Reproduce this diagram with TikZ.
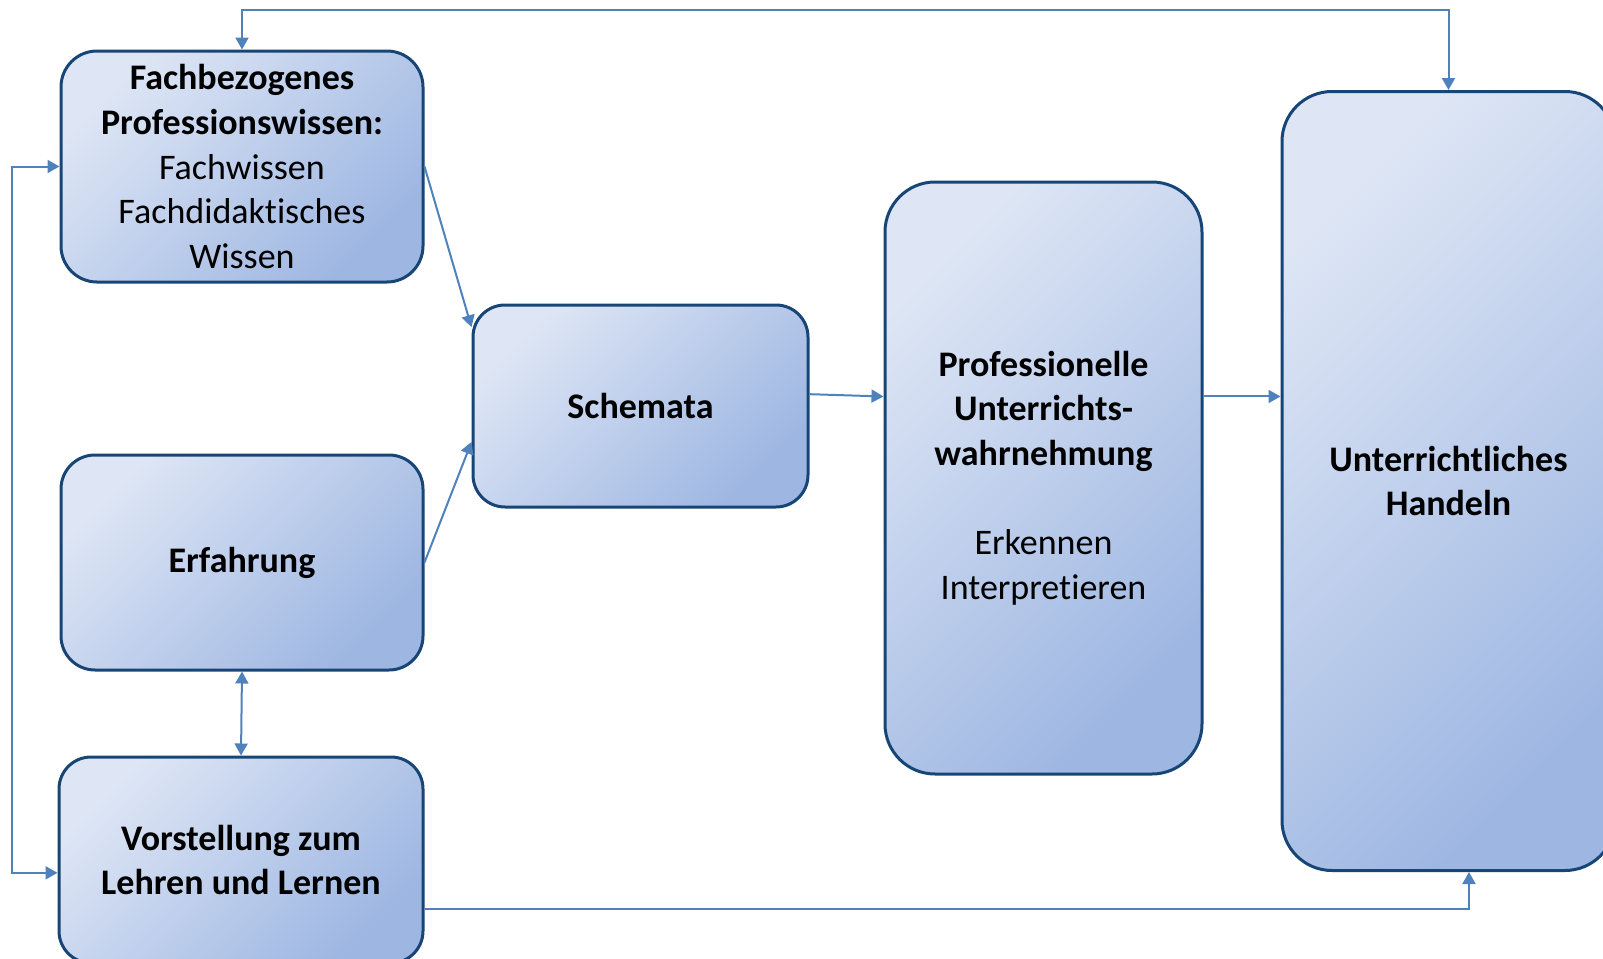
\documentclass[tikz,border=0pt]{standalone}
\usepackage{fontspec}
\setmainfont{Carlito}[Ligatures={NoCommon,NoContextual}]
\usetikzlibrary{arrows.meta}
\definecolor{boxline}{RGB}{23,70,118}
\definecolor{boxlight}{RGB}{222,230,245}
\definecolor{boxdark}{RGB}{157,182,226}
\definecolor{arrowblue}{RGB}{79,129,189}

\begin{document}
\begin{tikzpicture}[x=0.5pt, y=-0.5pt,
    box/.style={draw=boxline, line width=1.5pt, top color=boxlight, bottom color=boxdark,
      shading angle=45, align=center, inner sep=0pt, font=\fontsize{18}{22.3}\selectfont},
    link/.style={draw=arrowblue, line width=1pt},
    >={Triangle[length=6pt,width=6.5pt]}]
    \clip (0,0) rectangle (1603,959);
    % boxes
    \node[box, minimum width=181pt, minimum height=115.5pt, rounded corners=18pt] (fach) at (242,166.5)
        {\textbf{Fachbezogenes}\\\textbf{Professionswissen:}\\Fachwissen\\Fachdidaktisches\\Wissen};
    \node[box, minimum width=181pt, minimum height=107.5pt, rounded corners=17pt] (erf) at (242,562.5)
        {\textbf{Erfahrung}};
    \node[box, minimum width=182pt, minimum height=103pt, rounded corners=16pt] (vor) at (241,860)
        {\textbf{Vorstellung zum}\\\textbf{Lehren und Lernen}};
    \node[box, minimum width=167.5pt, minimum height=101pt, rounded corners=16pt] (sch) at (640.5,406)
        {\textbf{Schemata}};
    \node[box, minimum width=158.5pt, minimum height=296pt, rounded corners=25pt] (prof) at (1043.5,478)
        {\textbf{Professionelle}\\\textbf{Unterrichts-}\\\textbf{wahrnehmung}\\[22.3pt]Erkennen\\Interpretieren};
    \node[box, minimum width=166.5pt, minimum height=389.5pt, rounded corners=25pt] (hand) at (1448.5,481)
        {\textbf{Unterrichtliches}\\\textbf{Handeln}};
    % connectors
    \coordinate (top) at (800,10);
    \draw[link, <->] (fach.north) |- (top) -| (hand.north);
    \draw[link, <->] (fach.west) -- ++(-48,0) |- (vor.184.5);
    \draw[link, <->] (erf.south) -- (vor.north);
    \draw[link, ->] (fach.east) -- (sch.155);
    \draw[link, ->] (erf.east) -- (sch.192.5);
    \draw[link, ->] (sch.4) -- (prof.153.5);
    \draw[link, ->] (prof.27) -- (prof.27 -| hand.west);
    \draw[link, ->] (vor.-15.5) -| (hand.-87.6);
\end{tikzpicture}
\end{document}
